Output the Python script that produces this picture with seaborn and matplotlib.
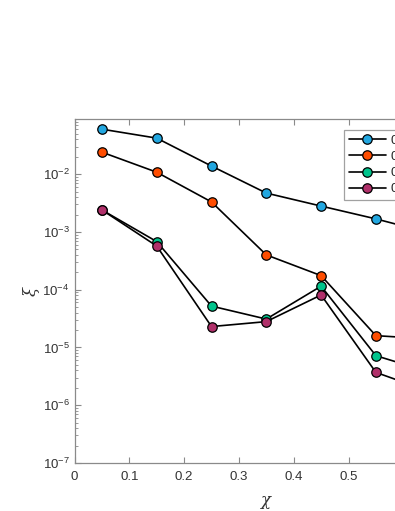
import matplotlib
matplotlib.use("Agg")
import matplotlib.pyplot as plt
import seaborn as sns
import numpy as np
import pandas as pd

chi = [0.05, 0.15, 0.25, 0.35, 0.45, 0.55, 0.65]
series_labels = ["0.1", "0.2", "0.3", "0.4"]
xi_blue = [0.060, 0.042, 0.0138, 0.0047, 0.0028, 0.00168, 0.00095]
xi_orange = [0.024, 0.0108, 0.0033, 0.00040, 0.000175, 1.6e-5, 1.4e-5]
xi_green = [0.0024, 0.00068, 5.2e-5, 3.1e-5, 0.000115, 7.2e-6, 3.7e-6]
xi_purple = [0.0024, 0.00057, 2.3e-5, 2.8e-5, 8.1e-5, 3.7e-6, 1.7e-6]
colors = ["#22a7e0", "#ff4d00", "#00c48c", "#b0306a"]
xtick_vals = [0, 0.1, 0.2, 0.3, 0.4, 0.5]
xtick_labels = ["0", "0.1", "0.2", "0.3", "0.4", "0.5"]

sns.set_style("ticks")
plt.rcParams['font.family'] = ['Liberation Sans', 'DejaVu Sans']
plt.rcParams['mathtext.default'] = 'regular'
plt.rcParams['xtick.direction'] = 'in'
plt.rcParams['ytick.direction'] = 'in'

fig = plt.figure(figsize=(3.95, 5.11), dpi=100)
ax = fig.add_axes([74.5/395, 48/511, 383.6/395, 344/511])

all_series = [xi_blue, xi_orange, xi_green, xi_purple]
for vals, c, lab in zip(all_series, colors, series_labels):
    sns.lineplot(x=chi, y=vals, ax=ax, color="black", lw=1.2, marker="o",
                 markersize=6.8, markerfacecolor=c, markeredgecolor="black",
                 markeredgewidth=0.9, label=lab)

ax.set_yscale("log")
ax.set_xlim(0, 0.7)
ax.set_ylim(1e-7, 0.09)
ax.set_xticks(xtick_vals)
ax.set_xticklabels(xtick_labels)
ax.set_yticks([1e-7, 1e-6, 1e-5, 1e-4, 1e-3, 1e-2])

for s in ax.spines.values():
    s.set_color("#8a8a8a")
    s.set_linewidth(0.9)
ax.tick_params(which="both", colors="#8a8a8a", labelcolor="#333333",
               labelsize=9.5, top=True, right=True)
ax.tick_params(which="major", length=4)
ax.tick_params(which="minor", length=2)
ax.tick_params(axis="x", pad=6)

ax.set_xlabel("χ", fontsize=12, color="#333333", labelpad=6,
              family="DejaVu Serif", style="italic")
ax.set_ylabel("ξ", fontsize=12, color="#333333", labelpad=2, rotation=90,
              family="DejaVu Serif", style="italic")

leg = ax.legend(loc="upper left", bbox_to_anchor=(344/395, 1 - 130/511),
                bbox_transform=fig.transFigure, fontsize=9.5, frameon=True,
                fancybox=False, handlelength=2.8, labelspacing=0.3,
                handletextpad=0.4, borderaxespad=0, borderpad=0.35)
leg.get_frame().set_edgecolor("#8a8a8a")
leg.get_frame().set_linewidth(0.9)

fig.savefig("out.png", dpi=100)
